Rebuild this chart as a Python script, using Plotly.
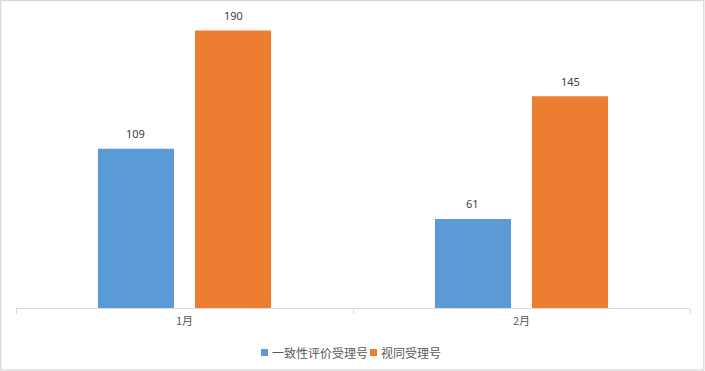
import plotly.graph_objects as go

categories = ["1月", "2月"]
series_names = ["一致性评价受理号", "视同受理号"]
consistency_values = [109, 61]
equivalent_values = [190, 145]
colors = ["#5B9BD5", "#ED7D31"]

W, H = 705, 371
plot_left, plot_right = 16, 690
plot_top, plot_bottom = 16, 308

fig = go.Figure()
for name, vals, col in zip(series_names, [consistency_values, equivalent_values], colors):
    fig.add_trace(go.Bar(name=name, x=categories, y=vals, marker_color=col,
                         marker_line_width=0, showlegend=False))

# value labels
slot_px = (plot_right - plot_left) / len(categories) * (1 - 0.424) / 2
for i, vals in enumerate([consistency_values, equivalent_values]):
    offset = (i - 0.5) * slot_px
    for c, v in zip(categories, vals):
        fig.add_annotation(x=c, y=v, text=str(v), showarrow=False,
                           xshift=offset, yshift=15, yanchor="middle",
                           font=dict(family="Noto Sans, Noto Sans CJK SC", size=11, color="#404040"))

# custom legend (compact, like the original)
fs = 12
x = 261.0
y_mid = 352.5
for name, col in zip(series_names, colors):
    fig.add_shape(type="rect", xref="paper", yref="paper",
                  x0=x / W, x1=(x + 7) / W, y0=(H - (y_mid + 3.5)) / H, y1=(H - (y_mid - 3.5)) / H,
                  line=dict(width=0), fillcolor=col)
    fig.add_annotation(xref="paper", yref="paper", x=(x + 9) / W, y=(H - y_mid) / H,
                       xanchor="left", yanchor="middle", showarrow=False, text=name,
                       font=dict(family="Noto Sans CJK SC", size=fs, color="#595959"))
    x = x + 9 + fs * len(name) + 4

fig.add_shape(type="rect", xref="paper", yref="paper",
              x0=0.7 / W, x1=1 - 1.2 / W, y0=1.2 / H, y1=1 - 0.7 / H,
              line=dict(color="#D9D9D9", width=1.3), fillcolor="rgba(0,0,0,0)", layer="below")

fig.update_layout(
    width=W, height=H,
    margin=dict(l=0, r=0, t=0, b=0),
    paper_bgcolor="white", plot_bgcolor="white",
    barmode="group", bargap=0.424, bargroupgap=0.216,
    font=dict(family="Noto Sans CJK SC, Noto Sans", color="#595959", size=11),
    showlegend=False,
    xaxis=dict(domain=[plot_left / W, plot_right / W], showline=True, linecolor="#D9D9D9",
               linewidth=1.3, ticks="outside", tickson="boundaries", ticklen=5,
               tickcolor="#D9D9D9", tickwidth=1.3, showgrid=False, ticklabelstandoff=3,
               tickfont=dict(size=11, color="#595959"), fixedrange=True),
    yaxis=dict(domain=[(H - plot_bottom) / H, (H - plot_top) / H], range=[0, 200],
               showticklabels=False, showgrid=False, zeroline=False, showline=False,
               fixedrange=True),
)

fig.write_html("out.html")
